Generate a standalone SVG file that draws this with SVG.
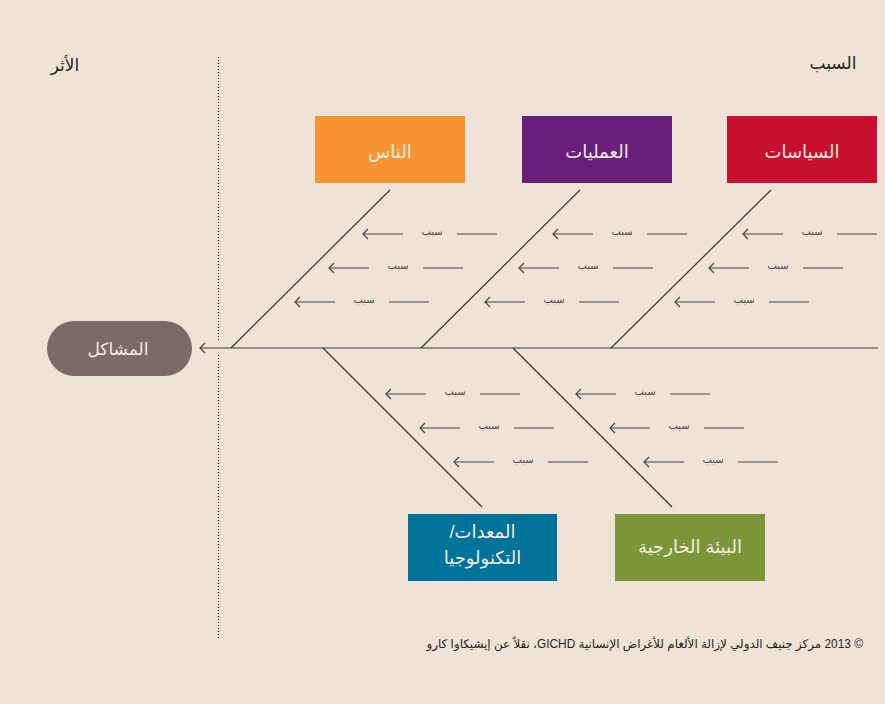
<svg xmlns="http://www.w3.org/2000/svg" width="885" height="704" viewBox="0 0 885 704">
  <defs>
    <style>
      text { font-family: "Liberation Sans", "DejaVu Sans", sans-serif; }
      .hdr { font-size: 17px; fill: #231f20; }
      .lbl { font-size: 18px; fill: #f6ece3; text-anchor: middle; }
      .cause { font-size: 10px; fill: #4a4545; text-anchor: middle; }
      .bone { stroke: #3a3637; stroke-width: 1.2; fill: none; }
      .sub { stroke: #444142; stroke-width: 1.2; fill: none; }
      .arr { marker-end: url(#chev); }
      .dots { stroke: #2b2b2b; stroke-width: 1.2; stroke-dasharray: 1 2; fill: none; }
      .foot { font-size: 11.9px; fill: #231f20; }
    </style>
    <marker id="chev" viewBox="0 0 10 10" refX="5" refY="5" markerWidth="10" markerHeight="10" markerUnits="userSpaceOnUse" orient="auto" overflow="visible">
      <path d="M0,0 L5,5 L0,10" fill="none" stroke="#444142" stroke-width="1.2"/>
    </marker>
  </defs>

  <!-- background -->
  <rect x="0" y="0" width="885" height="704" fill="#efe2d6"/>

  <!-- column headings -->
  <text class="hdr" x="65" y="71" text-anchor="middle">الأثر</text>
  <text class="hdr" x="833" y="69" text-anchor="middle">السبب</text>

  <!-- connectors: spine, bones and sub-causes -->
  <g id="connectors">
    <line class="dots" x1="218.5" y1="57" x2="218.5" y2="342"/>
    <line class="dots" x1="218.5" y1="355" x2="218.5" y2="638"/>

    <line class="bone arr" x1="878" y1="348" x2="200" y2="348"/>

    <!-- upper bones -->
    <line class="bone" x1="231" y1="348" x2="390" y2="190"/>
    <line class="bone" x1="421" y1="348" x2="580" y2="190"/>
    <line class="bone" x1="611" y1="348" x2="771" y2="190"/>

    <!-- lower bones -->
    <line class="bone" x1="323" y1="348" x2="482" y2="507"/>
    <line class="bone" x1="513" y1="348" x2="672" y2="507"/>

    <!-- sub-causes: people -->
    <line class="sub arr" x1="403" y1="234" x2="363" y2="234"/>
    <line class="sub" x1="457" y1="234" x2="497" y2="234"/>
    <line class="sub arr" x1="369" y1="268" x2="329" y2="268"/>
    <line class="sub" x1="423" y1="268" x2="463" y2="268"/>
    <line class="sub arr" x1="335" y1="302" x2="295" y2="302"/>
    <line class="sub" x1="389" y1="302" x2="429" y2="302"/>

    <!-- sub-causes: processes -->
    <line class="sub arr" x1="593" y1="234" x2="553" y2="234"/>
    <line class="sub" x1="647" y1="234" x2="687" y2="234"/>
    <line class="sub arr" x1="559" y1="268" x2="519" y2="268"/>
    <line class="sub" x1="613" y1="268" x2="653" y2="268"/>
    <line class="sub arr" x1="525" y1="302" x2="485" y2="302"/>
    <line class="sub" x1="579" y1="302" x2="619" y2="302"/>

    <!-- sub-causes: policies -->
    <line class="sub arr" x1="783" y1="234" x2="743" y2="234"/>
    <line class="sub" x1="837" y1="234" x2="877" y2="234"/>
    <line class="sub arr" x1="749" y1="268" x2="709" y2="268"/>
    <line class="sub" x1="803" y1="268" x2="843" y2="268"/>
    <line class="sub arr" x1="715" y1="302" x2="675" y2="302"/>
    <line class="sub" x1="769" y1="302" x2="809" y2="302"/>

    <!-- sub-causes: equipment / technology -->
    <line class="sub arr" x1="426" y1="394" x2="386" y2="394"/>
    <line class="sub" x1="480" y1="394" x2="520" y2="394"/>
    <line class="sub arr" x1="460" y1="428" x2="420" y2="428"/>
    <line class="sub" x1="514" y1="428" x2="554" y2="428"/>
    <line class="sub arr" x1="494" y1="462" x2="454" y2="462"/>
    <line class="sub" x1="548" y1="462" x2="588" y2="462"/>

    <!-- sub-causes: external environment -->
    <line class="sub arr" x1="616" y1="394" x2="576" y2="394"/>
    <line class="sub" x1="670" y1="394" x2="710" y2="394"/>
    <line class="sub arr" x1="650" y1="428" x2="610" y2="428"/>
    <line class="sub" x1="704" y1="428" x2="744" y2="428"/>
    <line class="sub arr" x1="684" y1="462" x2="644" y2="462"/>
    <line class="sub" x1="738" y1="462" x2="778" y2="462"/>
  </g>

  <!-- sub-cause labels -->
  <g id="cause-labels">
    <text class="cause" x="432" y="235">سبب</text>
    <text class="cause" x="398" y="269">سبب</text>
    <text class="cause" x="364" y="303">سبب</text>
    <text class="cause" x="622" y="235">سبب</text>
    <text class="cause" x="588" y="269">سبب</text>
    <text class="cause" x="554" y="303">سبب</text>
    <text class="cause" x="812" y="235">سبب</text>
    <text class="cause" x="778" y="269">سبب</text>
    <text class="cause" x="744" y="303">سبب</text>
    <text class="cause" x="455" y="395">سبب</text>
    <text class="cause" x="489" y="429">سبب</text>
    <text class="cause" x="523" y="463">سبب</text>
    <text class="cause" x="645" y="395">سبب</text>
    <text class="cause" x="679" y="429">سبب</text>
    <text class="cause" x="713" y="463">سبب</text>
  </g>

  <!-- effect -->
  <g id="problems">
    <rect x="47" y="321" width="145" height="55" rx="27.5" fill="#7a6b67"/>
    <text class="lbl" x="118" y="355" style="font-size:17px">المشاكل</text>
  </g>

  <!-- cause categories -->
  <g id="people">
    <rect x="315" y="116" width="150" height="67" fill="#f79532"/>
    <text class="lbl" x="390" y="158">الناس</text>
  </g>
  <g id="processes">
    <rect x="522" y="116" width="150" height="67" fill="#691f7a"/>
    <text class="lbl" x="597" y="158">العمليات</text>
  </g>
  <g id="policies">
    <rect x="727" y="116" width="150" height="67" fill="#c8102e"/>
    <text class="lbl" x="802" y="158">السياسات</text>
  </g>
  <g id="equipment">
    <rect x="408" y="514" width="149" height="67" fill="#00739a"/>
    <text class="lbl" x="482.5" y="538" direction="rtl">المعدات/</text>
    <text class="lbl" x="482.5" y="564">التكنولوجيا</text>
  </g>
  <g id="environment">
    <rect x="615" y="514" width="150" height="67" fill="#7a9638"/>
    <text class="lbl" x="690" y="553">البيئة الخارجية</text>
  </g>

  <!-- credit line -->
  <text class="foot" x="863" y="648" direction="rtl" text-anchor="start">© 2013 مركز جنيف الدولي لإزالة الألغام للأغراض الإنسانية GICHD، نقلاً عن إيشيكاوا كارو</text>
</svg>
